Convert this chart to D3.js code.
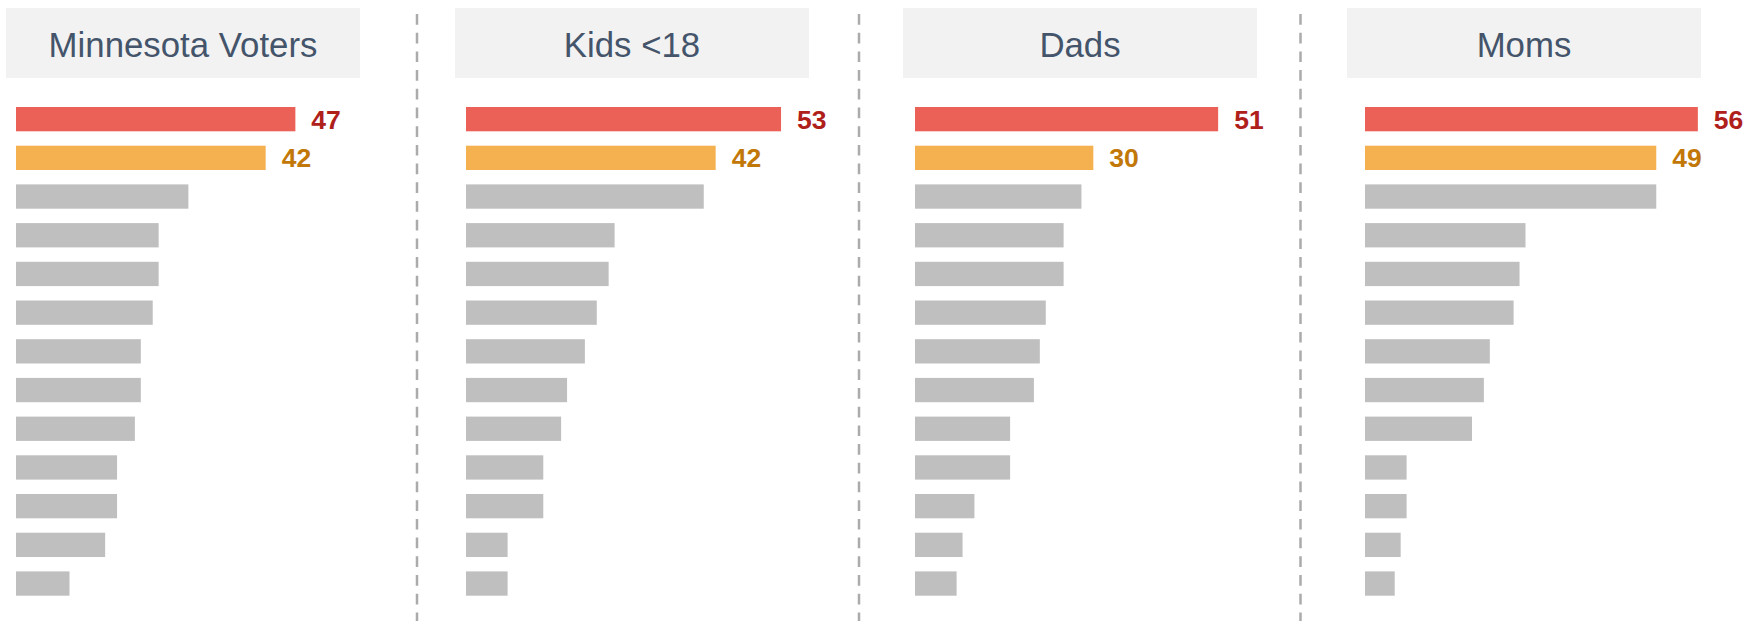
<!DOCTYPE html>
<html>
<head>
<meta charset="utf-8">
<script src="https://cdn.jsdelivr.net/npm/d3@7"></script>
<style>
  html, body { margin: 0; padding: 0; background: #ffffff; }
  svg { display: block; }
  text { font-family: "Liberation Sans", Arial, Helvetica, sans-serif; }
</style>
</head>
<body>
<svg id="chart" width="1748" height="621"></svg>
<script>
// ---------- DATA ----------
const panels = ["Minnesota Voters", "Kids <18", "Dads", "Moms"];
const rows = ["r1","r2","r3","r4","r5","r6","r7","r8","r9","r10","r11","r12","r13"];
const minnesotaVoters = [47, 42, 29, 24, 24, 23, 21, 21, 20, 17, 17, 15, 9];
const kidsUnder18     = [53, 42, 40, 25, 24, 22, 20, 17, 16, 13, 13, 7, 7];
const dads            = [51, 30, 28, 25, 25, 22, 21, 20, 16, 16, 10, 8, 7];
const moms            = [56, 49, 49, 27, 26, 25, 21, 20, 18, 7, 7, 6, 5];
const seriesValues = [minnesotaVoters, kidsUnder18, dads, moms];
const labelledRows = [0, 1]; // rows that carry a value label

// ---------- LAYOUT ----------
const svg = d3.select("#chart");
const headerX = [6, 455, 903, 1347];
const barX0   = [16, 466, 915, 1365];
const dividerX = [417, 859, 1300.5];
const headerW = 354, headerY = 8, headerH = 70;

const barFill   = ["#EB6157", "#F5B04F", "#BFBFBF"];
const labelFill = ["#B0201B", "#C27808"];

const stepY = 38.7, barH = 24.3;
const padIn = 1 - barH / stepY;
const y = d3.scaleBand()
  .domain(rows)
  .range([107, 107 + stepY * (rows.length - padIn)])
  .paddingInner(padIn)
  .paddingOuter(0);

const pxPerUnit = 5.944;
const x = d3.scaleLinear().domain([0, 60]).range([0, 60 * pxPerUnit]);

// dividers
svg.selectAll("line.div")
  .data(dividerX)
  .join("line")
  .attr("class", "div")
  .attr("x1", d => d).attr("x2", d => d)
  .attr("y1", 14).attr("y2", 621)
  .attr("stroke", "#ABABAB")
  .attr("stroke-width", 2.5)
  .attr("stroke-dasharray", "10.7,8");

panels.forEach((name, p) => {
  const g = svg.append("g");
  // header
  g.append("rect")
    .attr("x", headerX[p]).attr("y", headerY)
    .attr("width", headerW).attr("height", headerH)
    .attr("fill", "#F2F2F2");
  g.append("text")
    .attr("x", headerX[p] + headerW / 2)
    .attr("y", 57)
    .attr("text-anchor", "middle")
    .attr("font-size", 34.8)
    .attr("fill", "#44546A")
    .text(name);

  const vals = seriesValues[p];
  const bars = g.append("g").attr("transform", `translate(${barX0[p]},0)`);
  bars.selectAll("rect")
    .data(vals)
    .join("rect")
    .attr("x", 0)
    .attr("y", (d, i) => y(rows[i]))
    .attr("width", d => x(d))
    .attr("height", y.bandwidth())
    .attr("fill", (d, i) => barFill[Math.min(i, 2)]);

  bars.selectAll("text")
    .data(labelledRows)
    .join("text")
    .attr("x", i => x(vals[i]) + 16)
    .attr("y", i => y(rows[i]) + y.bandwidth() / 2 + 9.5)
    .attr("font-size", 26.5)
    .attr("font-weight", "bold")
    .attr("fill", i => labelFill[i])
    .text(i => vals[i]);
});
</script>
</body>
</html>
